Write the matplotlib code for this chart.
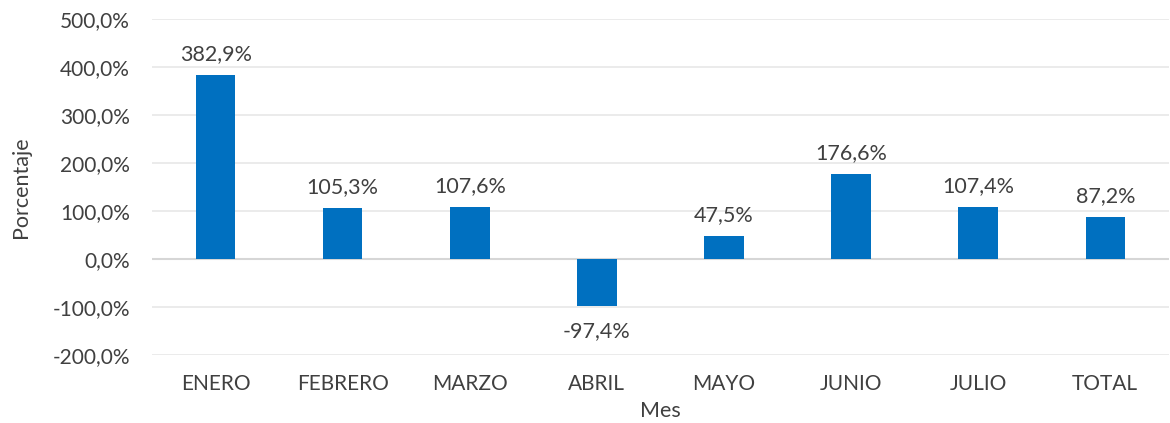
import matplotlib
matplotlib.use('Agg')
from matplotlib import pyplot as plt
from matplotlib.ticker import FuncFormatter

meses = ['ENERO', 'FEBRERO', 'MARZO', 'ABRIL', 'MAYO', 'JUNIO', 'JULIO', 'TOTAL']
porcentajes = [382.9, 105.3, 107.6, -97.4, 47.5, 176.6, 107.4, 87.2]

plt.rcParams['font.family'] = ['Lato', 'DejaVu Sans']
txtcolor = '#404040'

fig = plt.figure(figsize=(11.7, 4.23), dpi=100)
ax = fig.add_axes([0.13, 0.161, 0.869, 0.794])

x = range(len(meses))
ax.bar(x, porcentajes, width=0.31, color='#0070C0', zorder=3)

# etiquetas de valores
for i, v in enumerate(porcentajes):
    lbl = ('%.1f%%' % v).replace('.', ',')
    if v >= 0:
        ax.annotate(lbl, (i, v), xytext=(0, 8), textcoords='offset points',
                    ha='center', va='bottom', fontsize=15.5, color=txtcolor)
    else:
        ax.annotate(lbl, (i, v), xytext=(0, -11), textcoords='offset points',
                    ha='center', va='top', fontsize=15.5, color=txtcolor)

ax.set_ylim(-200, 500)
ax.set_xlim(-0.5, len(meses) - 0.5)
ax.set_yticks(range(-200, 501, 100))
ax.yaxis.set_major_formatter(FuncFormatter(lambda v, p: ('%.1f%%' % v).replace('.', ',')))
ax.set_xticks(list(x))
ax.set_xticklabels(meses)

ax.grid(axis='y', color='#e9e9e9', linewidth=1.3, zorder=0)
ax.axhline(0, color='#d6d6d6', linewidth=1.5, zorder=2)
for s in ax.spines.values():
    s.set_visible(False)
ax.tick_params(length=0, labelsize=15, colors=txtcolor)
ax.tick_params(axis='x', pad=14)
ax.tick_params(axis='y', pad=16)

ax.set_xlabel('Mes', fontsize=15.5, color=txtcolor)
ax.xaxis.set_label_coords(0.5, -0.138)
ax.set_ylabel('Porcentaje', fontsize=15.5, color=txtcolor)
ax.yaxis.set_label_coords(-0.119, 0.5)

plt.savefig('out.png', dpi=100)
